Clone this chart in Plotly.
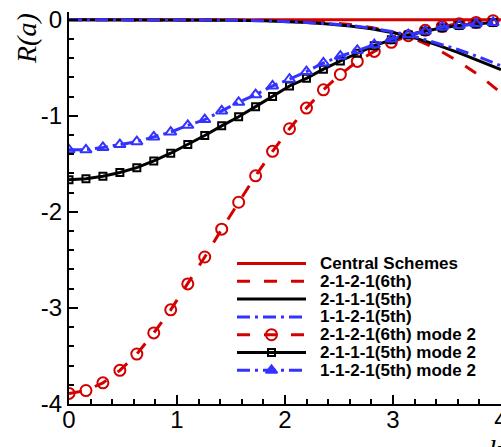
import plotly.graph_objects as go

# ---------------- data ----------------
k1 = [0, 0.5, 1.0, 1.5, 1.8, 2.0, 2.2, 2.4, 2.6, 2.8, 3.0, 3.2, 3.4, 3.6, 3.8, 4.0]
central = [0] * len(k1)
s2121_6 = [0, 0, 0, -0.002, -0.006, -0.01, -0.018, -0.03, -0.05, -0.08, -0.13, -0.2, -0.3, -0.43, -0.58, -0.76]
s2111_5 = [0, 0, -0.001, -0.005, -0.012, -0.02, -0.03, -0.045, -0.065, -0.095, -0.135, -0.19, -0.26, -0.34, -0.43, -0.52]
s1121_5 = [0, 0, -0.001, -0.005, -0.011, -0.018, -0.028, -0.042, -0.06, -0.088, -0.125, -0.175, -0.24, -0.31, -0.39, -0.48]

k2 = [0, 0.157, 0.314, 0.471, 0.628, 0.785, 0.942, 1.100, 1.257, 1.414, 1.571, 1.728, 1.885,
      2.042, 2.199, 2.356, 2.513, 2.670, 2.827, 2.985, 3.142, 3.299, 3.456, 3.613, 3.770, 3.927]
m2_2121_6 = [-3.89, -3.86, -3.78, -3.65, -3.48, -3.26, -3.02, -2.75, -2.47, -2.18, -1.90, -1.625, -1.37,
             -1.135, -0.92, -0.73, -0.57, -0.434, -0.33, -0.236, -0.167, -0.11, -0.07, -0.042, -0.028, -0.01]
m2_2111_5 = [-1.667, -1.656, -1.63, -1.59, -1.54, -1.47, -1.39, -1.30, -1.205, -1.105, -1.01, -0.905, -0.80,
             -0.69, -0.61, -0.515, -0.43, -0.35, -0.27, -0.21, -0.16, -0.12, -0.085, -0.06, -0.045, -0.03]
m2_1121_5 = [-1.354, -1.354, -1.33, -1.30, -1.27, -1.22, -1.17, -1.10, -1.04, -0.95, -0.86, -0.78, -0.69,
             -0.62, -0.54, -0.45, -0.38, -0.32, -0.26, -0.20, -0.156, -0.12, -0.076, -0.06, -0.042, -0.028]

labels = ["Central Schemes", "2-1-2-1(6th)", "2-1-1-1(5th)", "1-1-2-1(5th)",
          "2-1-2-1(6th) mode 2", "2-1-1-1(5th) mode 2", "1-1-2-1(5th) mode 2"]

x_tickvals = [0, 1, 2, 3, 4]
x_ticktext = ["0", "1", "2", "3", "4"]
y_tickvals = [0, -1, -2, -3, -4]
y_ticktext = ["0", "-1", "-2", "-3", "-4"]

RED = "#d40000"
BLACK = "#000000"
BLUE = "#3333ff"
DASH = "13px,14px"
DASHDOT = "13px,5px,3px,5px"

styles = [
    dict(color=RED, dash="solid", symbol=None),
    dict(color=RED, dash=DASH, symbol=None),
    dict(color=BLACK, dash="solid", symbol=None),
    dict(color=BLUE, dash=DASHDOT, symbol=None),
    dict(color=RED, dash=DASH, symbol="circle-open", msize=11),
    dict(color=BLACK, dash="solid", symbol="square-open", msize=7),
    dict(color=BLUE, dash=DASHDOT, symbol="triangle-up-open", msize=10),
]

series = [(k1, central), (k1, s2121_6), (k1, s2111_5), (k1, s1121_5),
          (k2, m2_2121_6), (k2, m2_2111_5), (k2, m2_1121_5)]

fig = go.Figure()
for (xs, ys), st, name in zip(series, styles, labels):
    tr = dict(x=xs, y=ys, name=name, showlegend=False,
              line=dict(color=st["color"], width=3, dash=st["dash"]))
    if st["symbol"]:
        tr["mode"] = "lines+markers"
        tr["marker"] = dict(symbol=st["symbol"], size=st["msize"], color=st["color"],
                            line=dict(color=st["color"], width=2))
    else:
        tr["mode"] = "lines"
    fig.add_trace(go.Scatter(**tr))

# ---------------- manual legend (overlay axes in pixel units) ----------------
L, R, T, B = 69, 501, 12, 404
row0, rowgap = 263.5, 17.8
lx0, lx1, lmid, tx = 237, 306, 271.5, 318
legend_syms = [None, None, None, None, "circle-open", "square-open", "triangle-up"]
for i, (st, name) in enumerate(zip(styles, labels)):
    yy = row0 + i * rowgap
    fig.add_trace(go.Scatter(x=[lx0, lx1], y=[yy, yy], mode="lines", xaxis="x2", yaxis="y2",
                             showlegend=False, hoverinfo="skip",
                             line=dict(color=st["color"], width=3, dash=st["dash"])))
    if legend_syms[i]:
        fig.add_trace(go.Scatter(x=[lmid], y=[yy], mode="markers", xaxis="x2", yaxis="y2",
                                 showlegend=False, hoverinfo="skip",
                                 marker=dict(symbol=legend_syms[i], size=st["msize"], color=st["color"],
                                             line=dict(color=st["color"], width=2))))
    fig.add_annotation(x=tx, y=yy, xref="x2", yref="y2", text=name, showarrow=False,
                       xanchor="left", yanchor="middle",
                       font=dict(family="Liberation Sans", size=17, color="black", weight="bold"))

axis_common = dict(showline=True, linecolor="black", linewidth=2, ticks="inside", ticklen=9,
                   tickwidth=2, tickcolor="black", showgrid=False, zeroline=False,
                   tickfont=dict(family="Liberation Sans", size=24, color="black"),
                   ticklabeloverflow="allow", automargin=False,
                   minor=dict(dtick=0.2, tick0=0, ticks="inside", ticklen=5, tickwidth=1.5, tickcolor="black"))

fig.update_layout(
    width=501, height=447,
    margin=dict(l=L, r=501 - R, t=T, b=447 - B, autoexpand=False),
    paper_bgcolor="white", plot_bgcolor="white",
    xaxis=dict(range=[0, 4.0005], tickmode="array", tickvals=x_tickvals, ticktext=x_ticktext,
               ticklabelstandoff=-7, **axis_common),
    yaxis=dict(range=[-4, 0.08], tickmode="array", tickvals=y_tickvals, ticktext=y_ticktext, **axis_common),
    xaxis2=dict(overlaying="x", range=[L, R], visible=False, anchor="y2", automargin=False),
    yaxis2=dict(overlaying="y", range=[B, T], visible=False, anchor="x2", automargin=False),
)

# axis titles
fig.add_annotation(x=(26 - L) / (R - L), y=(B - 39) / (B - T), xref="paper", yref="paper",
                   text="<i>R(a)</i>", textangle=-90, showarrow=False,
                   xanchor="center", yanchor="middle",
                   font=dict(family="Liberation Serif", size=28, color="black"))
fig.add_annotation(x=(495 - L) / (R - L), y=(B - 432) / (B - T), xref="paper", yref="paper",
                   text="<i>k</i>", showarrow=False, xanchor="center", yanchor="top",
                   font=dict(family="Liberation Serif", size=28, color="black"))

fig.write_html("out.html")
